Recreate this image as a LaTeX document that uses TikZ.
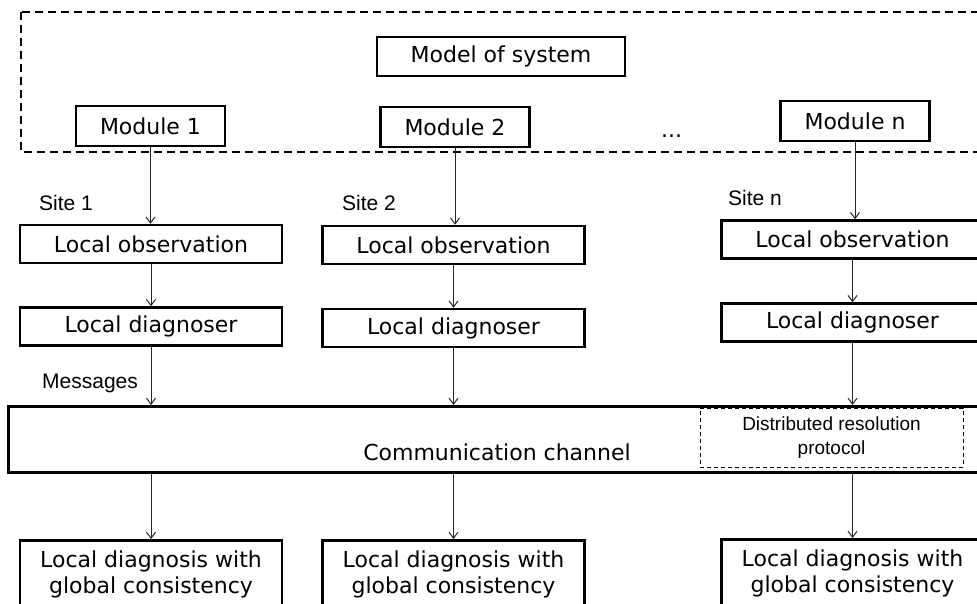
\documentclass[tikz,border=0pt]{standalone}
\usepackage{fontspec}
\setmainfont{DejaVu Sans}
\newfontfamily\arialfont{Liberation Sans}
\usetikzlibrary{arrows.meta,calc}
\begin{document}
\begin{tikzpicture}[x=1pt,y=-1pt,
  vfont/.style={font=\fontsize{22}{26}\selectfont},
  afont/.style={font=\arialfont\fontsize{21}{25}\selectfont},
  box/.style={draw=black, line width=2.5pt, minimum width=262pt, minimum height=38pt, inner sep=0pt, vfont},
  resbox/.style={box, align=center, inner xsep=0pt, inner ysep=11pt},
  modbox/.style={draw=black, line width=2.4pt, minimum width=149pt, minimum height=40pt, inner sep=0pt, vfont},
  arr/.style={draw=black!85, line width=1pt, -{Straight Barb[length=6pt,width=9pt,line width=1pt]}},
  lbl/.style={afont, anchor=base west, inner sep=0pt},
  outerframe/.style={draw=black, line width=1.5pt, dash pattern=on 8pt off 5pt},
  protobox/.style={draw=black, line width=1pt, dash pattern=on 4pt off 3pt, minimum width=263pt, minimum height=59pt, inner sep=0pt, align=center, font=\arialfont\fontsize{19}{24}\selectfont},
]
\useasboundingbox (0,0) rectangle (977,603);
\clip (0,0) rectangle (977,603);

% model part
\draw[outerframe] (21,12) rectangle (1010,152);
\node[modbox, minimum width=248pt, minimum height=39pt] (model) at (501,56.5) {Model of system};
\node[modbox] (mod1) at (150.5,126) {Module 1};
\node[modbox] (mod2) at (455,127) {Module 2};
\node[modbox] (modn) at (855,121) {Module n};
\node[vfont, anchor=base, inner sep=0pt] (dots) at (671.5,137) {...};

% sites
\node[lbl] (site1) at (39,210) {Site 1};
\node[lbl] (site2) at (342,210) {Site 2};
\node[lbl] (siten) at (728,205) {Site n};
\node[lbl] (msg) at (42,388) {Messages};

\node[box] (obs1) at (151,244) {Local observation};
\node[box] (obs2) at (453.5,245) {Local observation};
\node[box] (obsn) at (852.5,239.5) {Local observation};

\node[box] (diag1) at (151,326.5) {Local diagnoser};
\node[box] (diag2) at (453.5,328) {Local diagnoser};
\node[box] (diagn) at (852.5,322.5) {Local diagnoser};

% communication channel
\node[draw=black, line width=2.5pt, minimum width=1010pt, minimum height=66pt, inner sep=0pt, anchor=north west] (comm) at (7,405) {};
\node[vfont, anchor=base, inner sep=0pt] (commtxt) at (497,460) {Communication channel};
\node[protobox] (proto) at (831.5,437.5) {Distributed resolution\\protocol};

% results
\node[resbox, anchor=north] (res1) at (151,539) {Local diagnosis with\\global consistency};
\node[resbox, anchor=north] (res2) at (453.5,539) {Local diagnosis with\\global consistency};
\node[resbox, anchor=north] (resn) at (852.5,538) {Local diagnosis with\\global consistency};

% arrows
\draw[arr] (mod1.south) -- (mod1.south |- obs1.north);
\draw[arr] (mod2.south) -- (mod2.south |- obs2.north);
\draw[arr] (modn.south) -- (modn.south |- obsn.north);
\draw[arr] (obs1) -- (diag1);
\draw[arr] (obs2) -- (diag2);
\draw[arr] (obsn) -- (diagn);
\draw[arr] (diag1) -- (diag1 |- comm.north);
\draw[arr] (diag2) -- (diag2 |- comm.north);
\draw[arr] (diagn) -- (diagn |- comm.north);
\draw[arr] (diag1 |- comm.south) -- (res1);
\draw[arr] (diag2 |- comm.south) -- (res2);
\draw[arr] (diagn |- comm.south) -- (resn);
\end{tikzpicture}
\end{document}
